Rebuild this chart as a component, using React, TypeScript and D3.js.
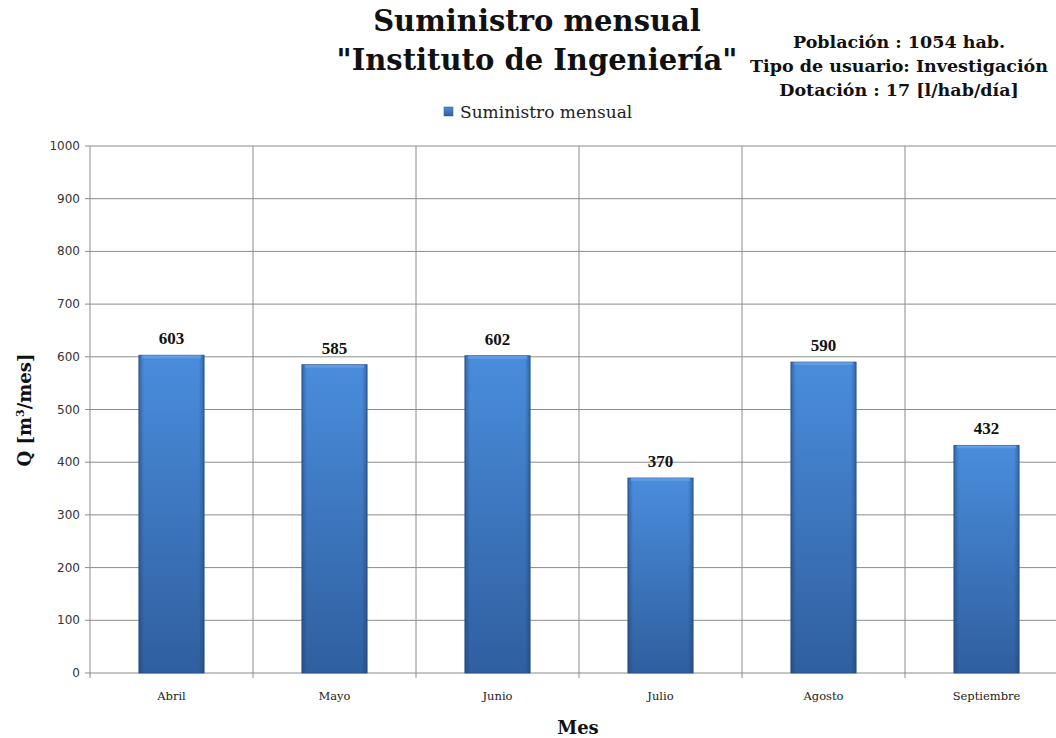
import React from "react";
import * as d3 from "d3";

const months = ["Abril", "Mayo", "Junio", "Julio", "Agosto", "Septiembre"];
const supply = [603, 585, 602, 370, 590, 432];
const yTicks = [0, 100, 200, 300, 400, 500, 600, 700, 800, 900, 1000];
const infoLines = ["Población : 1054 hab.", "Tipo de usuario: Investigación", "Dotación : 17 [l/hab/día]"];

const W = 1056, H = 738;
const left = 90, top = 146, bottom = 673, catW = 163;
const right = left + catW * months.length;

export default function App() {
  const x = d3.scaleBand<string>().domain(months).range([left, right]).paddingInner(0).paddingOuter(0);
  const y = d3.scaleLinear().domain([0, 1000]).range([bottom, top]);
  const bw = x.bandwidth() * 0.4;
  const serif = "'DejaVu Serif', 'Liberation Serif', serif";
  const lserif = "'Liberation Serif', 'DejaVu Serif', serif";
  const sans = "'DejaVu Sans', Tahoma, sans-serif";
  return (
    <svg width={W} height={H} style={{ position: "absolute", left: 0, top: 0, background: "#fff" }}>
      <defs>
        <linearGradient id="vg" x1="0" y1="0" x2="0" y2="1">
          <stop offset="0" stopColor="#4a8ddc" />
          <stop offset="1" stopColor="#2f5f9f" />
        </linearGradient>
        <linearGradient id="hg" x1="0" y1="0" x2="1" y2="0">
          <stop offset="0" stopColor="#1b3a66" stopOpacity="0.45" />
          <stop offset="0.08" stopColor="#1b3a66" stopOpacity="0" />
          <stop offset="0.92" stopColor="#1b3a66" stopOpacity="0" />
          <stop offset="1" stopColor="#1b3a66" stopOpacity="0.45" />
        </linearGradient>
      </defs>
      {yTicks.map((t) => (
        <g key={t}>
          <line x1={left - 5} x2={W} y1={y(t)} y2={y(t)} stroke="#8c8c8c" strokeWidth={1} />
          <text x={left - 10} y={y(t) + 4} textAnchor="end" fontFamily={sans} fontSize={12} fill="#333">{t}</text>
        </g>
      ))}
      {months.map((m, i) => (
        <line key={m} x1={left + i * catW} x2={left + i * catW} y1={top} y2={bottom + 5} stroke="#8c8c8c" strokeWidth={1} />
      ))}
      <line x1={right} x2={right} y1={top} y2={bottom + 5} stroke="#8c8c8c" />
      {months.map((m, i) => {
        const bx = x(m)! + (x.bandwidth() - bw) / 2;
        const by = y(supply[i]);
        const bh = bottom - by;
        return (
          <g key={m}>
            <rect x={bx} y={by} width={bw} height={bh} fill="url(#vg)" stroke="#2a5287" strokeWidth={0.8} />
            <rect x={bx} y={by} width={bw} height={bh} fill="url(#hg)" />
            <rect x={bx + 3} y={by} width={bw - 6} height={3} fill="#6ea6ea" opacity={0.6} />
            <text x={bx + bw / 2} y={by - 11} textAnchor="middle" fontFamily={lserif} fontWeight="bold" fontSize={17} fill="#111">{supply[i]}</text>
            <text x={bx + bw / 2} y={bottom + 27} textAnchor="middle" fontFamily={serif} fontSize={11.5} fill="#222">{m}</text>
          </g>
        );
      })}
      <text x={537} y={31} textAnchor="middle" fontFamily={serif} fontWeight="bold" fontSize={29} fill="#111">Suministro mensual</text>
      <text x={537} y={70} textAnchor="middle" fontFamily={serif} fontWeight="bold" fontSize={29} fill="#111">"Instituto de Ingeniería"</text>
      {infoLines.map((l, i) => (
        <text key={l} x={899} y={48 + i * 24} textAnchor="middle" fontFamily={serif} fontWeight="bold" fontSize={17.5} fill="#111">{l}</text>
      ))}
      <rect x={444} y={107} width={9} height={9} fill="url(#vg)" stroke="#2a5287" strokeWidth={0.5} />
      <text x={460} y={118} fontFamily={serif} fontSize={17} fill="#222">Suministro mensual</text>
      <text transform={`translate(31, ${410}) rotate(-90)`} textAnchor="middle" fontFamily={serif} fontWeight="bold" fontSize={18} fill="#111">
        Q [m<tspan fontSize={11} dy={-7}>3</tspan><tspan dy={7}>/mes]</tspan>
      </text>
      <text x={578} y={734} textAnchor="middle" fontFamily={serif} fontWeight="bold" fontSize={18} fill="#111">Mes</text>
    </svg>
  );
}
